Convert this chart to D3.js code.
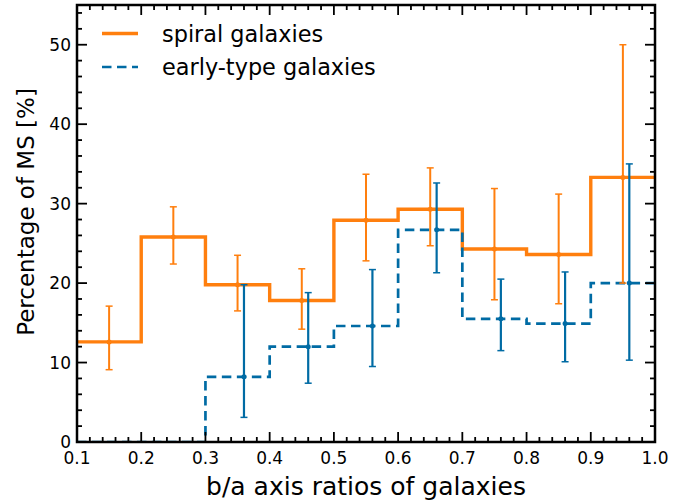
<!DOCTYPE html>
<html>
<head>
<meta charset="utf-8">
<script src="https://cdn.jsdelivr.net/npm/d3@7"></script>
<style>
  html, body { margin: 0; padding: 0; background: #fff; }
  svg { display: block; }
  text { font-family: "DejaVu Sans", sans-serif; fill: #000; }
</style>
</head>
<body>
<div id="chart"></div>
<script>
// ---- data ----
const binEdges = [0.1, 0.2, 0.3, 0.4, 0.5, 0.6, 0.7, 0.8, 0.9, 1.0];
const spiralValues = [12.6, 25.8, 19.8, 17.8, 27.9, 29.3, 24.3, 23.6, 33.3];
const spiralX = [0.15, 0.25, 0.35, 0.45, 0.55, 0.65, 0.75, 0.85, 0.95];
const spiralLow = [9.1, 22.4, 16.5, 14.2, 22.8, 24.7, 17.9, 17.4, 20.0];
const spiralHigh = [17.1, 29.6, 23.5, 21.8, 33.7, 34.5, 31.9, 31.2, 50.0];

const earlyValues = [0, 0, 8.2, 12.0, 14.6, 26.7, 15.5, 14.9, 20.0];
const earlyX = [0.36, 0.46, 0.56, 0.66, 0.76, 0.86, 0.96];
const earlyPoints = [8.2, 12.0, 14.6, 26.7, 15.5, 14.9, 20.0];
const earlyLow = [3.1, 7.4, 9.5, 21.3, 11.5, 10.1, 10.3];
const earlyHigh = [19.8, 18.8, 21.7, 32.6, 20.5, 21.4, 35.0];

const xTicks = [0.1, 0.2, 0.3, 0.4, 0.5, 0.6, 0.7, 0.8, 0.9, 1.0];
const yTicks = [0, 10, 20, 30, 40, 50];
const legendLabels = ["spiral galaxies", "early-type galaxies"];
const xLabel = "b/a axis ratios of galaxies";
const yLabel = "Percentage of MS [%]";

// ---- layout ----
const W = 697, H = 504;
const m = { left: 77, right: 655, top: 5, bottom: 442 };
const orange = "#ff7f0e", blue = "#006ba4";

const x = d3.scaleLinear().domain([0.1, 1.0]).range([m.left, m.right]);
const y = d3.scaleLinear().domain([0, 55]).range([m.bottom, m.top]);

const svg = d3.select("#chart").append("svg").attr("width", W).attr("height", H);

svg.append("clipPath").attr("id", "clip").append("rect")
  .attr("x", m.left).attr("y", m.top).attr("width", m.right - m.left).attr("height", m.bottom - m.top);

const plot = svg.append("g").attr("clip-path", "url(#clip)");

function stepData(vals) {
  return vals.map((v, i) => ({ x: binEdges[i], y: v })).concat([{ x: binEdges[binEdges.length - 1], y: vals[vals.length - 1] }]);
}
const line = d3.line().x(d => x(d.x)).y(d => y(d.y)).curve(d3.curveStepAfter);

// spiral step
plot.append("path").datum(stepData(spiralValues))
  .attr("d", line).attr("fill", "none").attr("stroke", orange).attr("stroke-width", 3.4);

// early-type step
plot.append("path").datum(stepData(earlyValues))
  .attr("d", line).attr("fill", "none").attr("stroke", blue).attr("stroke-width", 2.7)
  .attr("stroke-dasharray", "9.5,5.5");

function errorbars(xs, lows, highs, pts, color, sw) {
  const g = plot.append("g");
  xs.forEach((xv, i) => {
    const cx = x(xv);
    g.append("line").attr("x1", cx).attr("x2", cx).attr("y1", y(lows[i])).attr("y2", y(highs[i]))
      .attr("stroke", color).attr("stroke-width", sw);
    [lows[i], highs[i]].forEach(v => {
      g.append("line").attr("x1", cx - 3.5).attr("x2", cx + 3.5).attr("y1", y(v)).attr("y2", y(v))
        .attr("stroke", color).attr("stroke-width", 1.5);
    });
    g.append("circle").attr("cx", cx).attr("cy", y(pts[i])).attr("r", 2.5).attr("fill", color);
  });
}
errorbars(spiralX, spiralLow, spiralHigh, spiralValues, orange, 2);
errorbars(earlyX, earlyLow, earlyHigh, earlyPoints, blue, 2.2);

// ---- axes ----
const axG = svg.append("g");
const xMinor = d3.range(0.1, 1.0001, 0.02);
const yMinor = d3.range(0, 55.001, 2);
xMinor.forEach(v => {
  const isMajor = Math.abs(Math.round(v * 10) - v * 10) < 1e-6;
  const len = isMajor ? 10 : 5;
  axG.append("line").attr("x1", x(v)).attr("x2", x(v)).attr("y1", m.bottom).attr("y2", m.bottom - len).attr("stroke", "#000").attr("stroke-width", 1.8);
  axG.append("line").attr("x1", x(v)).attr("x2", x(v)).attr("y1", m.top).attr("y2", m.top + len).attr("stroke", "#000").attr("stroke-width", 1.8);
});
yMinor.forEach(v => {
  const isMajor = v % 10 === 0;
  const len = isMajor ? 10 : 5;
  axG.append("line").attr("x1", m.left).attr("x2", m.left + len).attr("y1", y(v)).attr("y2", y(v)).attr("stroke", "#000").attr("stroke-width", 1.8);
  axG.append("line").attr("x1", m.right).attr("x2", m.right - len).attr("y1", y(v)).attr("y2", y(v)).attr("stroke", "#000").attr("stroke-width", 1.8);
});

// frame
svg.append("rect").attr("x", m.left).attr("y", m.top).attr("width", m.right - m.left).attr("height", m.bottom - m.top)
  .attr("fill", "none").attr("stroke", "#000").attr("stroke-width", 2.5);

// tick labels
svg.append("g").selectAll("text").data(xTicks).join("text")
  .attr("x", d => x(d)).attr("y", 464).attr("text-anchor", "middle")
  .attr("font-size", 17).text(d => d.toFixed(1));
svg.append("g").selectAll("text").data(yTicks).join("text")
  .attr("x", m.left - 6).attr("y", d => y(d) + 6).attr("text-anchor", "end")
  .attr("font-size", 17).text(d => d);

// axis labels
svg.append("text").attr("x", 366).attr("y", 495).attr("text-anchor", "middle")
  .attr("font-size", 25).text(xLabel);
svg.append("text").attr("transform", "translate(34,212) rotate(-90)")
  .attr("text-anchor", "middle").attr("font-size", 23).text(yLabel);

// legend
const leg = svg.append("g");
leg.append("line").attr("x1", 102).attr("x2", 138).attr("y1", 33.5).attr("y2", 33.5)
  .attr("stroke", orange).attr("stroke-width", 3.4);
leg.append("line").attr("x1", 102).attr("x2", 138).attr("y1", 67).attr("y2", 67)
  .attr("stroke", blue).attr("stroke-width", 2.7).attr("stroke-dasharray", "9.5,5.5");
leg.append("text").attr("x", 162).attr("y", 42).attr("font-size", 22.4).text(legendLabels[0]);
leg.append("text").attr("x", 162).attr("y", 75).attr("font-size", 22.4).text(legendLabels[1]);
</script>
</body>
</html>
